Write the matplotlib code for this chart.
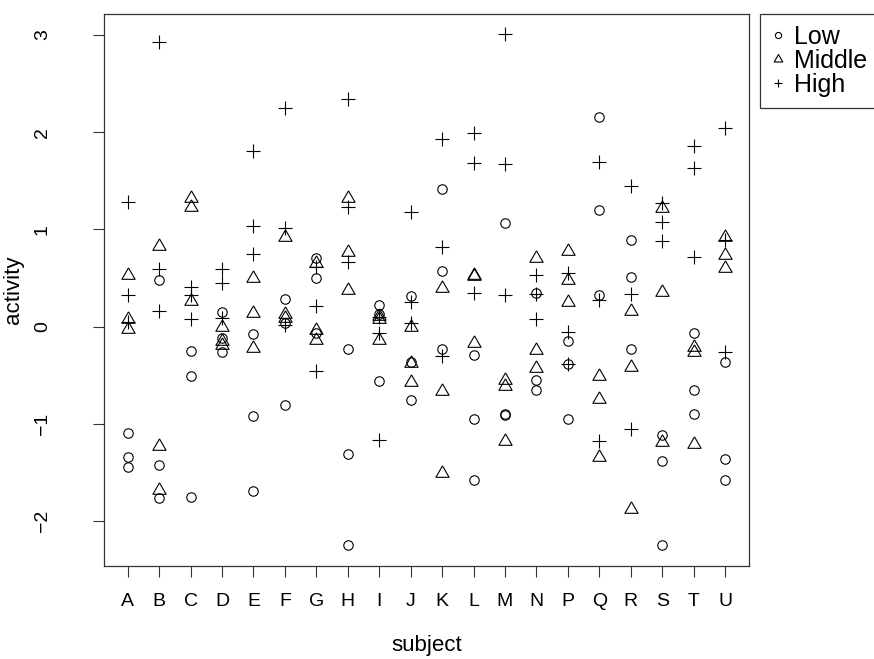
import numpy as np
import matplotlib
matplotlib.use('Agg')
import matplotlib.pyplot as plt

plt.rcParams['font.family'] = ['Liberation Sans', 'DejaVu Sans']

#%% Activity readings, three replicates per subject and level
subjects = ["A", "B", "C", "D", "E", "F", "G", "H", "I", "J",
            "K", "L", "M", "N", "P", "Q", "R", "S", "T", "U"]

low = [[-1.10, -1.34, -1.45], [0.48, -1.42, -1.76], [-0.25, -0.51, -1.755],
       [0.148, -0.113, -0.257], [-0.078, -0.925, -1.69], [0.285, 0.035, -0.805],
       [0.703, 0.497, -0.068], [-0.229, -1.312, -2.25], [0.22, 0.13, -0.558],
       [0.316, -0.37, -0.76], [1.415, 0.576, -0.229], [-0.298, -0.949, -1.576],
       [1.069, -0.90, -0.91], [0.35, -0.548, -0.65], [-0.154, -0.383, -0.949],
       [2.152, 1.20, 0.32], [0.891, 0.514, -0.229], [-1.12, -1.38, -2.244],
       [-0.062, -0.658, -0.897], [-0.36, -1.36, -1.576]]

middle = [[0.53, 0.076, -0.027], [0.83, -1.233, -1.68], [1.32, 1.23, 0.267],
          [-0.006, -0.15, -0.19], [0.497, 0.138, -0.222], [0.919, 0.127, 0.086],
          [0.65, -0.034, -0.137], [1.326, 0.771, 0.377], [0.11, 0.08, -0.137],
          [0.0, -0.38, -0.575], [0.395, -0.66, -1.507], [0.531, 0.52, -0.171],
          [-0.548, -0.609, -1.182], [0.703, -0.24, -0.428], [0.781, 0.48, 0.257],
          [-0.514, -0.743, -1.346], [0.161, -0.421, -1.877], [1.217, 0.36, -1.192],
          [-0.206, -0.264, -1.206], [0.919, 0.737, 0.606]]

high = [[1.285, 0.326, 0.05], [2.93, 0.59, 0.155], [0.405, 0.326, 0.076],
        [0.59, 0.446, 0.086], [1.81, 1.038, 0.747], [2.25, 1.011, 0.02],
        [0.617, 0.206, -0.462], [2.337, 1.233, 0.668], [0.10, -0.068, -1.164],
        [1.176, 0.257, 0.035], [1.926, 0.822, -0.30], [1.994, 1.679, 0.35],
        [3.005, 1.672, 0.326], [0.531, 0.33, 0.079], [0.549, -0.058, -0.383],
        [1.69, 0.274, -1.182], [1.446, 0.336, -1.051], [1.268, 1.079, 0.884],
        [1.86, 1.634, 0.719], [2.039, 0.89, -0.264]]

levels = ["Low", "Middle", "High"]

#%% Marker styles (R pch 1, 2, 3)
tri = [(0, 1), (-0.866, -0.5), (0.866, -0.5), (0, 1)]
styles = {
    "Low": dict(marker='o', markersize=6.8),
    "Middle": dict(marker=tri, markersize=11.0),
    "High": dict(marker='+', markersize=9.5),
}

#%% Plot
fig = plt.figure(figsize=(8.74, 6.59), dpi=100)
ax = fig.add_axes([0.1187, 0.1416, 0.7383, 0.8372])

xpos = np.arange(1, len(subjects) + 1)
for name, vals in zip(levels, [low, middle, high]):
    vals = np.asarray(vals)
    xx = np.repeat(xpos, vals.shape[1])
    ax.plot(xx, vals.ravel(), linestyle='none', color='black',
            markerfacecolor='none', markeredgewidth=0.8, label=name,
            **styles[name])

# R-style 4% padding around the data range
allv = np.concatenate([np.ravel(low), np.ravel(middle), np.ravel(high)])
pad = 0.04 * (allv.max() - allv.min())
ax.set_ylim(allv.min() - pad, allv.max() + pad)
xpad = 0.04 * (xpos[-1] - xpos[0])
ax.set_xlim(xpos[0] - xpad, xpos[-1] + xpad)

ax.set_xticks(xpos)
ax.set_xticklabels(subjects)
ax.set_yticks(np.arange(-2, 4))
ax.set_yticklabels([f"{v:d}".replace("-", "\u2212") for v in range(-2, 4)],
                   rotation=90, va='center')
ax.tick_params(axis='both', direction='out', length=8, width=0.8,
               labelsize=14, color='#333333')
ax.tick_params(axis='x', pad=12)
ax.tick_params(axis='y', pad=30)
for sp in ax.spines.values():
    sp.set_linewidth(0.9)
    sp.set_color('#333333')

ax.set_xlabel("subject", fontsize=16, labelpad=18)
ax.set_ylabel("activity", fontsize=16, labelpad=7)

# legend sits outside the plot box, top right, running off the edge
leg = fig.legend(loc='upper left', bbox_to_anchor=(760 / 874, 1 - 13.7 / 659),
                 fontsize=18, frameon=True, fancybox=False, markerscale=0.65,
                 handlelength=0.5, handletextpad=0.4, labelspacing=0.0,
                 borderpad=0.45, borderaxespad=0)
leg.get_frame().set_edgecolor('black')
leg.get_frame().set_linewidth(0.9)

fig.savefig("out.png", dpi=100)
